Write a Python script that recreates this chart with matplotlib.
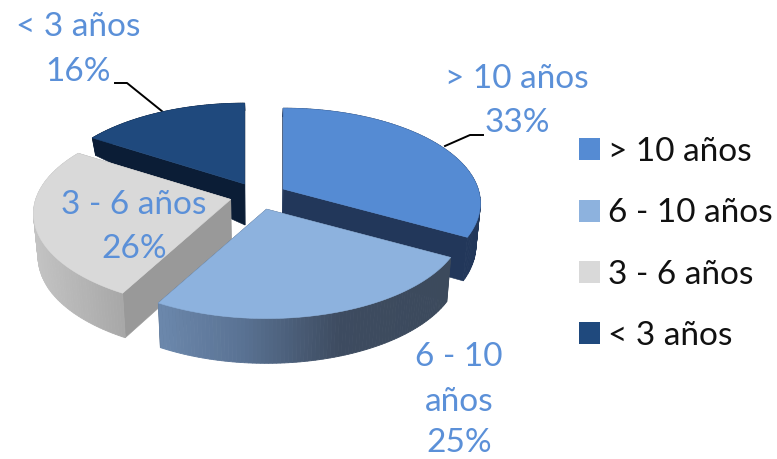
import numpy as np
import matplotlib
matplotlib.use("Agg")
import matplotlib.pyplot as plt
from matplotlib.patches import Polygon, Patch
from matplotlib.colors import to_rgb

categories = ["> 10 años", "6 - 10 años", "3 - 6 años", "< 3 años"]
values = [33, 25, 26, 16]
percent_labels = ["33%", "25%", "26%", "16%"]

top_colors = ["#558bd3", "#8db2de", "#d9d9d9", "#1f497d"]
face_colors = ["#22375a", "#3c4a5c", "#999999", "#0b1d36"]
rim_stops = [
    ([0, 777], ["#22375a", "#22375a"]),
    ([162, 240, 340, 453], ["#6b87ab", "#5a7394", "#3d4b60", "#3c4a5c"]),
    ([30, 122], ["#c4c4c4", "#a8a8a8"]),
    ([0, 777], ["#0b1d36", "#0b1d36"]),
]
label_color = "#5b90d8"
FONT = "Lato"
FS = 24

# projection layout (pixels)
CX, CY, RX, RY, K, EXPLODE = 258.5, 196, 195, 93, 0.15, 0.147
DV, DD = [-1.2, -0.7, -0.13, 0.5, 1.3], [6, 16, 41, 44, 45]
CONV = 0.02


def project(u, v):
    w = 1 - K * v
    return RX * u / w, RY * v / w


def lower(x, y, v):
    return x + (CX - x) * CONV, y + np.interp(v, DV, DD)


fig = plt.figure(figsize=(7.77, 4.59), dpi=100)
ax = fig.add_axes([0, 0, 1, 1])
ax.set_xlim(0, 777)
ax.set_ylim(459, 0)
ax.axis("off")

fractions = np.array(values) / sum(values)
edges = np.concatenate([[0], np.cumsum(fractions)]) * 2 * np.pi
order = [3, 0, 2, 1]
z = 2
for i in order:
    a0, a1 = edges[i], edges[i + 1]
    mid = (a0 + a1) / 2
    ou, ov = EXPLODE * np.sin(mid), -EXPLODE * np.cos(mid)
    ax_x, ax_y = CX + RX * ou, CY + RY * ov
    th = np.linspace(a0, a1, 90)
    ru, rv = np.sin(th), -np.cos(th)
    px, py = project(ru, rv)
    x, y = ax_x + px, ax_y + py
    xb, yb = lower(x, y, rv + ov)
    # cut faces
    r = np.linspace(0, 1, 20)
    for a in (a0, a1):
        fu, fv = r * np.sin(a), -r * np.cos(a)
        qx, qy = project(fu, fv)
        fx, fy = ax_x + qx, ax_y + qy
        bx, by = lower(fx, fy, fv + ov)
        ax.add_patch(Polygon(np.r_[np.c_[fx, fy], np.c_[bx, by][::-1]], closed=True,
                             fc=face_colors[i], ec=face_colors[i], lw=0.4, zorder=z))
    # rim, shaded along x
    sx, sc = rim_stops[i]
    sc = np.array([to_rgb(c) for c in sc])
    for j in range(len(th) - 1):
        xm = (x[j] + x[j + 1]) / 2
        col = [np.interp(xm, sx, sc[:, c]) for c in range(3)]
        ax.add_patch(Polygon([(x[j], y[j]), (x[j + 1], y[j + 1]), (xb[j + 1], yb[j + 1]), (xb[j], yb[j])],
                             closed=True, fc=col, ec=col, lw=0.6, zorder=z + 0.1))
    # top
    ax.add_patch(Polygon(np.r_[[[ax_x, ax_y]], np.c_[x, y]], closed=True, fc=top_colors[i],
                         ec=top_colors[i], lw=0.4, zorder=z + 0.2))
    z += 1

# data labels
txt = dict(color=label_color, fontsize=FS, family=FONT, ha="center", va="center", zorder=20)
ax.text(517, 79, categories[0], **txt)
ax.text(517, 123, percent_labels[0], **txt)
ax.text(459, 357, "6 - 10", **txt)
ax.text(459, 402, "años", **txt)
ax.text(459, 443, percent_labels[1], **txt)
ax.text(134, 205, categories[2], **txt)
ax.text(134, 249, percent_labels[2], **txt)
ax.text(78, 27, categories[3], **txt)
ax.text(78, 72, percent_labels[3], **txt)

# leader lines
ax.plot([445, 470, 483], [146, 135, 135], color="black", lw=1.4, zorder=1)
ax.plot([115, 127, 163], [83, 83, 112], color="black", lw=1.4, zorder=1)

# legend
handles = [Patch(fc=c, ec="none") for c in top_colors]
leg = ax.legend(handles, categories, loc="upper left", bbox_to_anchor=(579 / 777, 1 - 137 / 459),
                frameon=False, borderaxespad=0, borderpad=0, handlelength=0.64, handleheight=0.64,
                handletextpad=0.22, labelspacing=0.94, prop={"family": FONT, "size": FS})
for t in leg.get_texts():
    t.set_color("#111111")

fig.savefig("out.png", dpi=100)
